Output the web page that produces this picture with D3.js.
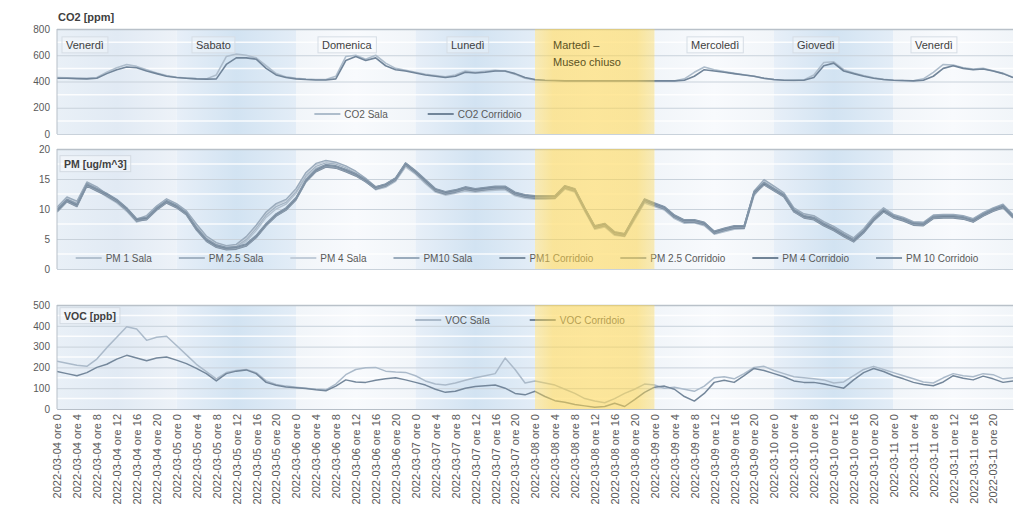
<!DOCTYPE html>
<html><head><meta charset="utf-8">
<script src="https://cdn.jsdelivr.net/npm/d3@7"></script>
<style>
body{margin:0;background:#fff;}
svg{display:block;font-family:"Liberation Sans",Arial,sans-serif;}
</style>
</head><body>
<svg id="chart" width="1015" height="532"></svg>
<script>
// ---------------- DATA ----------------
const dayDates = ["2022-03-04","2022-03-05","2022-03-06","2022-03-07","2022-03-08","2022-03-09","2022-03-10","2022-03-11"];
const dayNames = ["Venerdì","Sabato","Domenica","Lunedì","Martedì –|Museo chiuso","Mercoledì","Giovedì","Venerdì"];
const dayStyle = ["light","blue","white","blue","yellow","white","blue","white"];
const tickHoursOfDay = [0,4,8,12,16,20];
const sampleStepHours = 2;

const co2Ticks = [0,200,400,600,800];
const pmTicks = [0,5,10,15,20];
const vocTicks = [0,100,200,300,400,500];

const co2Sala = [430,428,425,424,430,470,505,530,515,490,465,445,432,426,422,420,450,590,610,600,580,520,460,435,425,418,415,415,440,590,600,570,600,540,500,485,470,455,445,435,450,480,470,478,485,478,455,425,412,408,406,404,404,404,404,404,404,404,404,404,404,404,404,420,470,510,490,475,462,452,440,424,414,410,408,412,450,545,550,490,465,445,428,416,410,407,406,420,470,530,525,505,495,500,482,462,432];
const co2Corridoio = [425,425,422,420,425,460,490,510,505,480,460,440,430,425,420,418,420,530,580,580,570,500,450,430,420,415,412,412,420,560,590,560,580,520,490,480,465,450,440,430,440,470,465,470,480,480,460,430,415,410,408,405,405,405,405,405,405,405,405,405,405,405,405,410,440,490,480,470,460,450,440,425,415,410,410,410,430,520,540,480,460,440,425,415,410,408,405,410,440,500,520,500,490,495,480,460,430];

const pm1Sala = [9.8,11.5,10.8,14.0,13.2,12.0,11.0,9.6,7.8,8.4,10.0,11.2,10.4,9.2,7.0,5.0,3.9,3.4,3.6,4.6,6.4,8.6,10.0,10.8,12.6,15.3,16.8,17.4,17.2,16.6,15.8,14.6,13.2,13.6,14.6,17.0,15.8,14.2,12.8,12.3,12.6,13.0,12.8,13.0,13.1,13.2,12.2,11.8,11.6,11.6,11.7,13.3,12.8,9.6,6.6,7.0,5.6,5.4,8.2,11.0,10.4,9.8,8.4,7.6,7.7,7.2,5.8,6.2,6.6,6.7,12.2,14.3,13.3,12.2,9.7,8.7,8.4,7.4,6.6,5.6,4.7,6.2,8.2,9.7,8.6,8.1,7.4,7.3,8.5,8.6,8.6,8.4,7.9,8.9,9.7,10.3,8.6];
const pm25Sala = [10.0,11.7,11.0,14.2,13.4,12.2,11.2,9.8,8.0,8.6,10.2,11.4,10.6,9.4,7.2,5.2,4.1,3.6,3.8,4.9,6.8,9.0,10.4,11.1,12.9,15.6,17.1,17.7,17.5,16.9,16.0,14.8,13.4,13.8,14.8,17.3,16.0,14.4,13.0,12.5,12.8,13.2,13.0,13.2,13.3,13.4,12.4,12.0,11.8,11.8,11.9,13.5,13.0,9.8,6.8,7.2,5.8,5.6,8.4,11.2,10.6,10.0,8.6,7.8,7.9,7.4,6.0,6.4,6.8,6.9,12.5,14.6,13.5,12.4,9.9,8.9,8.6,7.6,6.8,5.8,4.9,6.4,8.4,9.9,8.8,8.3,7.6,7.5,8.7,8.8,8.8,8.6,8.1,9.1,9.9,10.5,8.8];
const pm4Sala = [10.2,11.9,11.2,14.4,13.6,12.4,11.4,10.0,8.2,8.8,10.4,11.6,10.8,9.6,7.4,5.4,4.3,3.8,4.0,5.2,7.1,9.3,10.7,11.4,13.2,15.9,17.4,17.9,17.7,17.1,16.2,15.0,13.6,14.0,15.0,17.5,16.2,14.6,13.2,12.7,13.0,13.4,13.2,13.4,13.5,13.6,12.6,12.2,12.0,12.0,12.1,13.7,13.2,10.0,7.0,7.4,6.0,5.8,8.6,11.4,10.8,10.2,8.8,8.0,8.1,7.6,6.2,6.6,7.0,7.1,12.8,14.8,13.7,12.6,10.1,9.1,8.8,7.8,7.0,6.0,5.1,6.6,8.6,10.1,9.0,8.5,7.8,7.7,8.9,9.0,9.0,8.8,8.3,9.3,10.1,10.7,9.0];
const pm10Sala = [10.3,12.0,11.3,14.5,13.7,12.5,11.5,10.1,8.3,8.9,10.5,11.7,10.9,9.7,7.5,5.5,4.4,3.9,4.1,5.4,7.3,9.5,10.9,11.6,13.4,16.1,17.6,18.1,17.8,17.2,16.3,15.1,13.7,14.1,15.1,17.6,16.3,14.7,13.3,12.8,13.1,13.5,13.3,13.5,13.6,13.7,12.7,12.3,12.1,12.1,12.2,13.8,13.3,10.1,7.1,7.5,6.1,5.9,8.7,11.5,10.9,10.3,8.9,8.1,8.2,7.7,6.3,6.7,7.1,7.2,13.0,14.9,13.8,12.7,10.2,9.2,8.9,7.9,7.1,6.1,5.2,6.7,8.7,10.2,9.1,8.6,7.9,7.8,9.0,9.1,9.1,8.9,8.4,9.4,10.2,10.8,9.1];
const pm1Corridoio = [9.5,11.2,10.4,13.8,13.0,12.2,11.2,9.8,8.0,8.2,9.8,11.0,10.2,9.0,6.5,4.6,3.6,3.2,3.3,3.8,5.2,7.2,8.8,9.8,11.5,14.5,16.2,17.0,16.8,16.2,15.5,14.5,13.3,13.8,14.8,17.3,16.0,14.5,13.0,12.5,12.8,13.3,13.0,13.2,13.4,13.4,12.4,12.0,11.8,11.8,11.8,13.5,13.0,9.8,6.8,7.2,5.8,5.5,8.5,11.3,10.6,10.0,8.6,7.8,7.8,7.4,5.9,6.4,6.8,6.8,12.5,14.0,13.0,12.0,9.5,8.5,8.2,7.2,6.4,5.4,4.5,6.0,8.0,9.5,8.5,8.0,7.3,7.2,8.4,8.5,8.5,8.3,7.8,8.8,9.6,10.2,8.5];
const pm25Corridoio = [9.6,11.3,10.5,13.9,13.1,12.3,11.3,9.9,8.1,8.3,9.9,11.1,10.3,9.1,6.6,4.7,3.7,3.3,3.4,3.9,5.3,7.3,8.9,9.9,11.6,14.6,16.3,17.1,16.9,16.3,15.6,14.6,13.4,13.9,14.9,17.4,16.1,14.6,13.1,12.6,12.9,13.4,13.1,13.3,13.5,13.5,12.5,12.1,11.9,11.9,11.9,13.6,13.1,9.9,6.9,7.3,5.9,5.6,8.6,11.4,10.7,10.1,8.7,7.9,7.9,7.5,6.0,6.5,6.9,6.9,12.6,14.1,13.1,12.1,9.6,8.6,8.3,7.3,6.5,5.5,4.6,6.1,8.1,9.6,8.6,8.1,7.4,7.3,8.5,8.6,8.6,8.4,7.9,8.9,9.7,10.3,8.6];
const pm4Corridoio = [9.8,11.5,10.7,14.1,13.3,12.5,11.5,10.1,8.3,8.5,10.1,11.3,10.5,9.3,6.8,4.9,3.9,3.5,3.6,4.1,5.5,7.5,9.1,10.1,11.8,14.8,16.5,17.3,17.1,16.5,15.8,14.8,13.6,14.1,15.1,17.6,16.3,14.8,13.3,12.8,13.1,13.6,13.3,13.5,13.7,13.7,12.7,12.3,12.1,12.1,12.1,13.8,13.3,10.1,7.1,7.5,6.1,5.8,8.8,11.6,10.9,10.3,8.9,8.1,8.1,7.7,6.2,6.7,7.1,7.1,12.8,14.3,13.3,12.3,9.8,8.8,8.5,7.5,6.7,5.7,4.8,6.3,8.3,9.8,8.8,8.3,7.6,7.5,8.7,8.8,8.8,8.6,8.1,9.1,9.9,10.5,8.8];
const pm10Corridoio = [9.9,11.6,10.8,14.2,13.4,12.6,11.6,10.2,8.4,8.6,10.2,11.4,10.6,9.4,6.9,5.0,4.0,3.6,3.7,4.2,5.6,7.6,9.2,10.2,11.9,14.9,16.6,17.4,17.2,16.6,15.9,14.9,13.7,14.2,15.2,17.7,16.4,14.9,13.4,12.9,13.2,13.7,13.4,13.6,13.8,13.8,12.8,12.4,12.2,12.2,12.2,13.9,13.4,10.2,7.2,7.6,6.2,5.9,8.9,11.7,11.0,10.4,9.0,8.2,8.2,7.8,6.3,6.8,7.2,7.2,12.9,14.4,13.4,12.4,9.9,8.9,8.6,7.6,6.8,5.8,4.9,6.4,8.4,9.9,8.9,8.4,7.7,7.6,8.8,8.9,8.9,8.7,8.2,9.2,10.0,10.6,8.9];

const vocSala = [230,220,210,205,240,295,345,395,385,330,345,350,305,260,215,180,145,175,185,190,175,135,118,110,105,100,95,92,120,165,190,198,200,182,178,176,160,135,120,115,125,138,150,160,170,245,190,125,135,125,115,95,75,50,38,30,50,75,95,120,115,100,105,95,85,110,150,155,145,170,200,205,185,170,155,150,145,140,125,130,160,190,205,190,175,160,145,130,125,150,170,160,155,170,165,145,150];
const vocCorridoio = [180,170,160,175,200,215,240,258,245,232,245,250,235,218,195,170,135,170,182,188,170,128,114,106,102,98,92,88,110,140,130,128,138,145,150,140,128,115,95,80,85,100,108,112,115,100,75,68,85,60,40,32,22,15,8,12,28,12,45,80,105,110,95,60,38,75,128,138,128,160,195,185,170,155,135,128,128,120,110,100,140,175,195,180,160,145,128,118,112,130,160,148,140,158,145,128,135];

// ---------------- LAYOUT ----------------
const plotL = 57, plotR = 1013;
const svg = d3.select("#chart");
const x = d3.scaleLinear().domain([0, dayDates.length*24]).range([plotL, plotR]);
const sampleHour = i => i*sampleStepHours;

const defs = svg.append("defs");
function grad(id, stops){
  const g = defs.append("linearGradient").attr("id",id).attr("x1","0").attr("x2","1").attr("y1","0").attr("y2","0");
  stops.forEach(([o,c,op])=>g.append("stop").attr("offset",o).attr("stop-color",c).attr("stop-opacity",op==null?1:op));
}
grad("g-blue",[["0%","#e7eff8"],["50%","#d2e3f2"],["100%","#e3edf7"]]);
grad("g-light",[["0%","#e9f0f7"],["50%","#e1eaf4"],["100%","#edf2f8"]]);
grad("g-white",[["0%","#f1f5f9"],["50%","#f8fafd"],["100%","#f1f5f9"]]);
grad("g-yellow",[["0%","#ffd84e",0.38],["15%","#ffd54a",0.55],["85%","#ffd54a",0.55],["100%","#ffd84e",0.38]]);

const panels = [
  {key:"co2", domain:[0,800], range:[134,29], ticks:co2Ticks, minor:100, title:"CO2 [ppm]", titleInside:false,
   legendY:114, legendCX:418,
   series:[{name:"CO2 Sala",values:co2Sala,color:"#aebdcc",w:1.6},{name:"CO2 Corridoio",values:co2Corridoio,color:"#71859a",w:1.6}]},
  {key:"pm", domain:[0,20], range:[269,149], ticks:pmTicks, minor:2.5, title:"PM [ug/m^3]", titleInside:true, titleY:164,
   legendY:258, legendCX:527,
   series:[
    {name:"PM 1 Sala",values:pm1Sala,color:"#b3c1cf",w:1.4},
    {name:"PM 2.5 Sala",values:pm25Sala,color:"#a3b3c3",w:1.4},
    {name:"PM 4 Sala",values:pm4Sala,color:"#c2cdd9",w:1.4},
    {name:"PM10 Sala",values:pm10Sala,color:"#9aabbc",w:1.4},
    {name:"PM1 Corridoio",values:pm1Corridoio,color:"#7c8ea0",w:1.4},
    {name:"PM 2.5 Corridoio",values:pm25Corridoio,color:"#8c9daf",w:1.4},
    {name:"PM 4 Corridoio",values:pm4Corridoio,color:"#708396",w:1.4},
    {name:"PM 10 Corridoio",values:pm10Corridoio,color:"#8497aa",w:1.4}]},
  {key:"voc", domain:[0,500], range:[409,305], ticks:vocTicks, minor:50, title:"VOC [ppb]", titleInside:true, titleY:316,
   legendY:320, legendCX:520,
   series:[{name:"VOC Sala",values:vocSala,color:"#abbaca",w:1.5},{name:"VOC Corridoio",values:vocCorridoio,color:"#74879b",w:1.5}]}
];

panels.forEach(p=>{
  const y = d3.scaleLinear().domain(p.domain).range(p.range);
  const top = p.range[1], bot = p.range[0];
  const g = svg.append("g").attr("class","panel-"+p.key);
  defs.append("clipPath").attr("id","clip-"+p.key).append("rect")
    .attr("x",plotL).attr("y",top).attr("width",plotR-plotL).attr("height",bot-top);

  // day bands
  g.append("g").selectAll("rect").data(dayDates).join("rect")
    .attr("x",(d,i)=>x(i*24)).attr("width",(d,i)=>x((i+1)*24)-x(i*24))
    .attr("y",top).attr("height",bot-top)
    .attr("fill",(d,i)=>dayStyle[i]==="blue"?"url(#g-blue)":dayStyle[i]==="light"?"url(#g-light)":"url(#g-white)");

  // minor gridlines (white stripes)
  const minorVals = d3.range(p.domain[0]+p.minor, p.domain[1], p.minor).filter(v=>!p.ticks.includes(v));
  g.append("g").selectAll("line").data(minorVals).join("line")
    .attr("x1",plotL).attr("x2",plotR).attr("y1",d=>y(d)).attr("y2",d=>y(d))
    .attr("stroke","#ffffff").attr("stroke-opacity",0.85).attr("stroke-width",1.5);
  // major gridlines
  g.append("g").selectAll("line").data(p.ticks).join("line")
    .attr("x1",plotL).attr("x2",plotR).attr("y1",d=>y(d)+0.5).attr("y2",d=>y(d)+0.5)
    .attr("stroke",d=>d===p.domain[1]?"#b9c1c9":"#c9d2db").attr("stroke-width",d=>d===p.domain[1]?1.5:1);

  // lines
  const line = d3.line().x((d,i)=>x(sampleHour(i))).y(d=>y(d));
  const lg = g.append("g").attr("clip-path","url(#clip-"+p.key+")");
  p.series.forEach(s=>{
    lg.append("path").datum(s.values).attr("d",line).attr("fill","none")
      .attr("stroke",s.color).attr("stroke-width",s.w).attr("stroke-linejoin","round");
  });

  // legend
  const leg = g.append("g").attr("font-size","10px").attr("fill","#595959");
  const items = p.series.map(s=>{
    const t = leg.append("text").text(s.name).attr("y",p.legendY).attr("dy","0.35em");
    return {s, t, w: t.node().getComputedTextLength()};
  });
  const sampleW = 26, gap1 = 4, gap2 = p.key==="pm"?27:40;
  const total = d3.sum(items,d=>sampleW+gap1+d.w) + gap2*(items.length-1);
  let cx = p.legendCX - total/2;
  items.forEach(it=>{
    leg.append("line").attr("x1",cx).attr("x2",cx+sampleW).attr("y1",p.legendY).attr("y2",p.legendY)
      .attr("stroke",it.s.color).attr("stroke-width",2);
    it.t.attr("x",cx+sampleW+gap1);
    cx += sampleW+gap1+it.w+gap2;
  });

  // title
  if(p.titleInside){
    const tt = g.append("text").attr("x",plotL+7).attr("y",p.titleY).attr("dy","0.35em")
      .attr("font-size","10.5px").attr("font-weight","600").attr("fill","#404040").text(p.title);
    const bb = tt.node().getBBox();
    g.insert("rect",function(){return tt.node();})
      .attr("x",bb.x-4).attr("y",bb.y-2).attr("width",bb.width+8).attr("height",bb.height+4)
      .attr("fill","#ffffff").attr("fill-opacity",0.35).attr("stroke","#d3dae2");
  } else {
    g.append("text").attr("x",plotL+1).attr("y",17).attr("dy","0.35em")
      .attr("font-size","11px").attr("font-weight","600").attr("fill","#404040").text(p.title);
  }

  // yellow overlay (closed museum day)
  dayStyle.forEach((st,i)=>{
    if(st==="yellow"){
      g.append("rect").attr("x",x(i*24)).attr("width",x((i+1)*24)-x(i*24))
        .attr("y",top).attr("height",bot-top).attr("fill","url(#g-yellow)");
    }
  });

  // day labels (CO2 panel only)
  if(p.key==="co2"){
    const labelX = [66,196,322,451,553,691,797,915];
    dayNames.forEach((nm,i)=>{
      const parts = nm.split("|");
      const closed = dayStyle[i]==="yellow";
      const t = g.append("text").attr("x",labelX[i]).attr("y",45).attr("font-size","11px")
        .attr("fill",closed?"#5b5323":"#3f3f3f");
      parts.forEach((pt,k)=>t.append("tspan").attr("x",labelX[i]).attr("dy",k===0?"0.35em":"1.6em").text(pt));
      if(!closed){
        const bb = t.node().getBBox();
        g.insert("rect",function(){return t.node();})
          .attr("x",bb.x-4).attr("y",bb.y-2).attr("width",bb.width+8).attr("height",bb.height+4)
          .attr("fill","#ffffff").attr("fill-opacity",0.25).attr("stroke","#d6dde5");
      }
    });
  }

  // y axis
  const ax = g.append("g").attr("transform",`translate(${plotL},0)`)
    .call(d3.axisLeft(y).tickValues(p.ticks).tickSize(0).tickPadding(7));
  ax.select(".domain").remove();
  ax.selectAll("text").attr("font-size","10px").attr("fill","#595959").attr("font-family","Liberation Sans, Arial, sans-serif");
  g.append("line").attr("x1",plotL).attr("x2",plotL).attr("y1",top).attr("y2",bot)
    .attr("stroke","#b7bfc8").attr("stroke-width",1);

  // x axis (bottom panel)
  if(p.key==="voc"){
    const tickHours = [], tickLabels = [];
    dayDates.forEach((dd,di)=>tickHoursOfDay.forEach(h=>{tickHours.push(di*24+h); tickLabels.push(dd+" ore "+h);}));
    const xa = svg.append("g").attr("transform",`translate(0,${bot})`)
      .call(d3.axisBottom(x).tickValues(tickHours).tickSize(0).tickFormat((d,i)=>tickLabels[i]));
    xa.select(".domain").attr("stroke","#b7bfc8");
    xa.selectAll("text").attr("transform","rotate(-90)").attr("x",-5).attr("y",0).attr("dy","0.35em")
      .style("text-anchor","end").attr("font-size","11px").attr("fill","#595959")
      .attr("font-family","Liberation Sans, Arial, sans-serif");
  }
});
</script>
</body></html>
